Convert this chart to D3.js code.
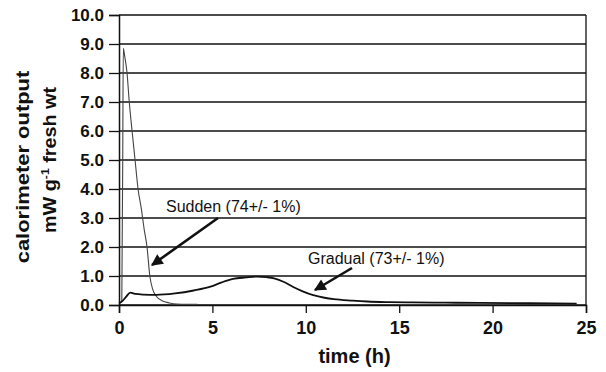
<!DOCTYPE html>
<html>
<head>
<meta charset="utf-8">
<script src="https://cdn.jsdelivr.net/npm/d3@7"></script>
<style>
  body { margin: 0; background: #fff; }
  svg text { font-family: "Liberation Sans", Arial, sans-serif; }
</style>
</head>
<body>
<svg id="chart"></svg>
<script>
// time (h) and output (mW per g fresh wt)
var suddenTime  = [0.15, 0.2, 0.23, 0.3, 0.43, 0.55, 0.7, 0.86, 1.02, 1.2, 1.35, 1.5, 1.65, 1.8, 2.0, 2.3, 2.7, 3.1, 3.6, 4.2];
var suddenValue = [0.1, 5.0, 8.85, 8.6, 8.0, 7.0, 6.0, 5.0, 4.0, 3.3, 2.6, 2.0, 1.0, 0.55, 0.3, 0.15, 0.07, 0.03, 0.02, 0.02];

var gradualTime  = [0, 0.2, 0.4, 0.6, 0.9, 1.3, 2.0, 3.0, 4.0, 4.9, 5.5, 6.1, 6.8, 7.4, 7.9, 8.3, 8.8, 9.3, 9.8, 10.4, 11.0, 11.5, 12.5, 13.3, 14.5, 15.7, 17.5, 19.3, 22.0, 24.5];
var gradualValue = [0.05, 0.15, 0.3, 0.43, 0.38, 0.36, 0.35, 0.4, 0.5, 0.63, 0.78, 0.9, 0.95, 0.98, 0.96, 0.92, 0.8, 0.63, 0.48, 0.34, 0.25, 0.2, 0.15, 0.12, 0.1, 0.09, 0.08, 0.07, 0.06, 0.05];

var xTicks = [0, 5, 10, 15, 20, 25];
var yTicks = [0, 1, 2, 3, 4, 5, 6, 7, 8, 9, 10];

var notes = [
  { label: "Sudden (74+/- 1%)",  tx: 166, ty: 212, from: [218, 218], to: [152, 265] },
  { label: "Gradual (73+/- 1%)", tx: 308, ty: 264, from: [352, 268], to: [315, 290] }
];

var W = 606, H = 372;
var svg = d3.select('#chart').attr('width', W).attr('height', H);

var x = d3.scaleLinear().domain([0, 25]).range([119, 586]);
var y = d3.scaleLinear().domain([0, 10]).range([305, 15]);

// grid lines
svg.append('g').selectAll('line')
    .data(yTicks)
    .enter().append('line')
    .attr('x1', x(0)).attr('x2', x(25))
    .attr('y1', d => y(d)).attr('y2', d => y(d))
    .attr('stroke', '#111').attr('stroke-width', 1.3);

// right frame line
svg.append('line')
    .attr('x1', x(25)).attr('x2', x(25))
    .attr('y1', y(10)).attr('y2', y(0))
    .attr('stroke', '#111').attr('stroke-width', 1.3);

var yAxis = svg.append('g')
    .attr('transform', `translate(${x(0)},0)`)
    .call(d3.axisLeft(y).tickValues(yTicks).tickFormat(d3.format('.1f')).tickSize(10).tickPadding(5));

var xAxis = svg.append('g')
    .attr('transform', `translate(0,${y(0)})`)
    .call(d3.axisBottom(x).tickValues(xTicks).tickFormat(d3.format('d')).tickSize(8).tickPadding(8));

[yAxis, xAxis].forEach(function(a) {
    a.select('.domain').attr('stroke', '#111').attr('stroke-width', 1.5);
    a.selectAll('.tick line').attr('stroke', '#111').attr('stroke-width', 1.3);
    a.selectAll('text').attr('fill', '#111')
        .style('font-weight', 'bold')
        .style('font-family', '"Liberation Sans", Arial, sans-serif');
});
yAxis.selectAll('text').style('font-size', '17px');
xAxis.selectAll('text').style('font-size', '18px');

var line = d3.line()
    .x(d => x(d[0]))
    .y(d => y(d[1]))
    .curve(d3.curveMonotoneX);

var sudden = d3.zip(suddenTime, suddenValue);
var gradual = d3.zip(gradualTime, gradualValue);

svg.append('path')
    .datum(sudden)
    .attr('d', line)
    .attr('fill', 'none')
    .attr('stroke', '#444')
    .attr('stroke-width', 1.1);

svg.append('path')
    .datum(gradual)
    .attr('d', line)
    .attr('fill', 'none')
    .attr('stroke', '#111')
    .attr('stroke-width', 1.8);

// arrow head
svg.append('defs').append('marker')
    .attr('id', 'head')
    .attr('viewBox', '0 0 10 10')
    .attr('refX', 9).attr('refY', 5)
    .attr('markerWidth', 5).attr('markerHeight', 4.5)
    .attr('orient', 'auto')
    .append('path')
    .attr('d', 'M0,0 L10,5 L0,10 Z')
    .attr('fill', '#111');

svg.append('g').selectAll('text')
    .data(notes)
    .enter().append('text')
    .attr('x', d => d.tx).attr('y', d => d.ty)
    .attr('font-size', '16px')
    .attr('fill', '#111')
    .text(d => d.label);

svg.append('g').selectAll('line')
    .data(notes)
    .enter().append('line')
    .attr('x1', d => d.from[0]).attr('y1', d => d.from[1])
    .attr('x2', d => d.to[0]).attr('y2', d => d.to[1])
    .attr('stroke', '#111').attr('stroke-width', 2.6)
    .attr('marker-end', 'url(#head)');

// axis titles
svg.append('text')
    .attr('x', x(12.5) + 2).attr('y', 363)
    .attr('text-anchor', 'middle')
    .attr('font-size', '20px').attr('font-weight', 'bold')
    .attr('fill', '#111')
    .text('time (h)');

// the original lettering is stretched along the text direction
svg.append('text')
    .attr('transform', 'translate(29,167) rotate(-90) scale(1.22,1)')
    .attr('text-anchor', 'middle')
    .attr('font-size', '18px').attr('font-weight', 'bold')
    .attr('fill', '#111')
    .text('calorimeter output');

var l2 = svg.append('text')
    .attr('transform', 'translate(56,160) rotate(-90) scale(1.1,1)')
    .attr('text-anchor', 'middle')
    .attr('font-size', '18px').attr('font-weight', 'bold')
    .attr('fill', '#111');
l2.append('tspan').text('mW g');
l2.append('tspan').attr('dy', -7).attr('font-size', '11px').text('-1');
l2.append('tspan').attr('dy', 7).text(' fresh wt');
</script>
</body>
</html>
